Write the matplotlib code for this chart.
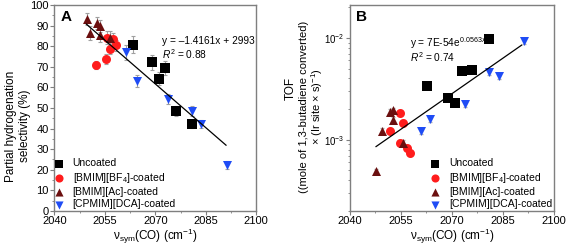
import matplotlib
matplotlib.use("Agg")
import matplotlib.pyplot as plt
import numpy as np

plt.rcParams["font.family"] = ["Liberation Sans", "DejaVu Sans"]
plt.rcParams["mathtext.fontset"] = "custom"
plt.rcParams["mathtext.rm"] = "Liberation Sans"
plt.rcParams["mathtext.it"] = "Liberation Sans:italic"

# ---- data, panel A (selectivity %) ----
a_unc_x = [2063.4, 2069.1, 2071.0, 2072.9, 2076.0, 2081.0]
a_unc_y = [80.8, 72.1, 64.3, 69.5, 48.5, 42.3]
a_unc_e = [4.0, 3.5, 3.0, 3.5, 2.5, 2.0]
a_bf4_x = [2052.5, 2055.4, 2056.4, 2055.5, 2057.4, 2058.4]
a_bf4_y = [70.8, 73.7, 78.8, 84.2, 83.5, 80.4]
a_bf4_e = [2.0, 2.5, 2.5, 3.0, 3.0, 2.5]
a_ac_x = [2049.6, 2050.6, 2052.6, 2053.6, 2053.6, 2056.4]
a_ac_y = [93.3, 86.4, 91.3, 89.7, 85.6, 84.0]
a_ac_e = [3.0, 3.5, 3.0, 3.0, 3.5, 3.5]
a_dca_x = [2061.4, 2064.4, 2073.8, 2080.8, 2083.6, 2091.2]
a_dca_y = [77.0, 63.2, 54.2, 48.7, 42.2, 22.2]
a_dca_e = [3.5, 3.0, 2.5, 2.5, 2.0, 2.0]

# ---- data, panel B (TOF) ----
b_unc_x = [2081.0, 2075.8, 2072.9, 2062.7, 2068.8, 2070.8]
b_unc_y = [9.8e-3, 4.85e-3, 4.7e-3, 3.35e-3, 2.57e-3, 2.30e-3]
b_bf4_x = [2051.8, 2054.8, 2055.7, 2054.6, 2056.8, 2057.7]
b_bf4_y = [1.22e-3, 1.83e-3, 1.46e-3, 9.3e-4, 8.3e-4, 7.4e-4]
b_ac_x = [2047.6, 2049.6, 2051.8, 2052.7, 2052.7, 2055.7]
b_ac_y = [4.9e-4, 1.22e-3, 1.87e-3, 1.94e-3, 1.57e-3, 9.3e-4]
b_dca_x = [2091.2, 2081.0, 2083.9, 2073.9, 2063.7, 2060.8]
b_dca_y = [9.3e-3, 4.6e-3, 4.2e-3, 2.22e-3, 1.58e-3, 1.22e-3]

labels = ["Uncoated", "[BMIM][BF$_4$]-coated", "[BMIM][Ac]-coated",
          "[CPMIM][DCA]-coated"]
colors = ["#000000", "#ff1c1c", "#6b0f0f", "#1f4cf5"]
markers = ["s", "o", "^", "v"]

# fits
a_slope, a_icpt = -1.4161, 2993
a_line_x = np.array([2049.5, 2091.0])

bx = np.concatenate([b_unc_x, b_bf4_x, b_ac_x, b_dca_x])
by = np.concatenate([b_unc_y, b_bf4_y, b_ac_y, b_dca_y])
b_k, b_c = np.polyfit(bx, np.log(by), 1)
b_line_x = np.array([2047.7, 2090.5])

xlabel = "ν$_{\\rm sym}$(CO) (cm$^{-1}$)"
spine_c = "#7f7f7f"

fig = plt.figure(figsize=(5.67, 2.52), dpi=100)
axA = fig.add_axes([0.096, 0.163, 0.356, 0.817])
axB = fig.add_axes([0.617, 0.163, 0.360, 0.817])


def style(ax):
    for s in ax.spines.values():
        s.set_color(spine_c)
        s.set_linewidth(1.0)
    ax.tick_params(which="both", direction="out", color=spine_c, labelsize=8,
                   pad=1)
    ax.tick_params(which="major", length=3)
    ax.tick_params(which="minor", length=1.5)
    ax.set_xlim(2040, 2100)
    ax.set_xticks([2040, 2055, 2070, 2085, 2100])
    ax.set_xticks(np.arange(2047.5, 2100, 15), minor=True)
    ax.set_xlabel(xlabel, fontsize=8.5, va="center")
    ax.xaxis.set_label_coords(0.5, -0.125)


def legend(ax, loc):
    ax.legend(loc=loc, frameon=False, fontsize=7.5, handletextpad=1.1,
              borderaxespad=0.0, labelspacing=0.22, handlelength=0.5,
              borderpad=0.15, markerscale=0.9)


# panel A
sets_a = [(a_unc_x, a_unc_y, a_unc_e), (a_bf4_x, a_bf4_y, a_bf4_e),
          (a_ac_x, a_ac_y, a_ac_e), (a_dca_x, a_dca_y, a_dca_e)]
for (x, y, e), c, m, lab in zip(sets_a, colors, markers, labels):
    axA.errorbar(x, y, yerr=e, fmt="none", ecolor="#a0a0a0", elinewidth=0.8,
                 capsize=1.5, capthick=0.8, zorder=2)
    axA.scatter(x, y, s=42, c=c, marker=m, label=lab, zorder=3, linewidths=0)
axA.plot(a_line_x, a_slope * a_line_x + a_icpt, color="black", lw=0.9,
         zorder=4)
style(axA)
axA.set_ylim(0, 100)
axA.set_yticks(np.arange(0, 101, 10))
axA.set_yticks(np.arange(5, 100, 10), minor=True)
fig.text(18 / 567, 0.50, "Partial hydrogenation\nselectivity (%)",
         fontsize=8.5, rotation=90, ha="center", va="center",
         linespacing=1.3)
axA.text(0.03, 0.975, "A", transform=axA.transAxes, fontsize=11,
         fontweight="bold", va="top")
axA.text(2072.0, 82.5, "y = \u20131.4161x + 2993", fontsize=7.3, va="center")
axA.text(2072.0, 76.3, "$R^2$ = 0.88", fontsize=7.3, va="center")
legend(axA, "lower left")

# panel B
sets_b = [(b_unc_x, b_unc_y), (b_bf4_x, b_bf4_y), (b_ac_x, b_ac_y),
          (b_dca_x, b_dca_y)]
for (x, y), c, m, lab in zip(sets_b, colors, markers, labels):
    axB.errorbar(x, y, yerr=np.array(y) * 0.06, fmt="none", ecolor="#b0b0b0",
                 elinewidth=0.8, capsize=1.2, zorder=2)
    axB.scatter(x, y, s=42, c=c, marker=m, label=lab, zorder=3, linewidths=0)
axB.plot(b_line_x, np.exp(b_c + b_k * b_line_x), color="black", lw=0.9,
         zorder=4)
axB.set_yscale("log")
style(axB)
axB.tick_params(axis="y", which="major", labelsize=7)
axB.set_ylim(2e-4, 2.1e-2)
axB.set_yticks([1e-3, 1e-2])
axB.set_yticklabels(["10$^{-3}$", "10$^{-2}$"])
fig.text(291 / 567, 0.65, "TOF", fontsize=8.5, rotation=90, ha="center",
         va="center")
fig.text(312 / 567, 0.575, "((mole of 1,3-butadiene converted)\n"
         "\u00d7 (Ir site \u00d7 s)$^{-1}$)", fontsize=8.0, rotation=90,
         ha="center", va="center", linespacing=1.1)
axB.text(0.03, 0.975, "B", transform=axB.transAxes, fontsize=11,
         fontweight="bold", va="top")
axB.text(2057.8, 8.9e-3, "y = 7E-54e$^{0.0563x}$", fontsize=7.3,
         va="center")
axB.text(2057.8, 6.5e-3, "$R^2$ = 0.74", fontsize=7.3, va="center")
legend(axB, "lower right")

fig.savefig("out.png", dpi=100)
